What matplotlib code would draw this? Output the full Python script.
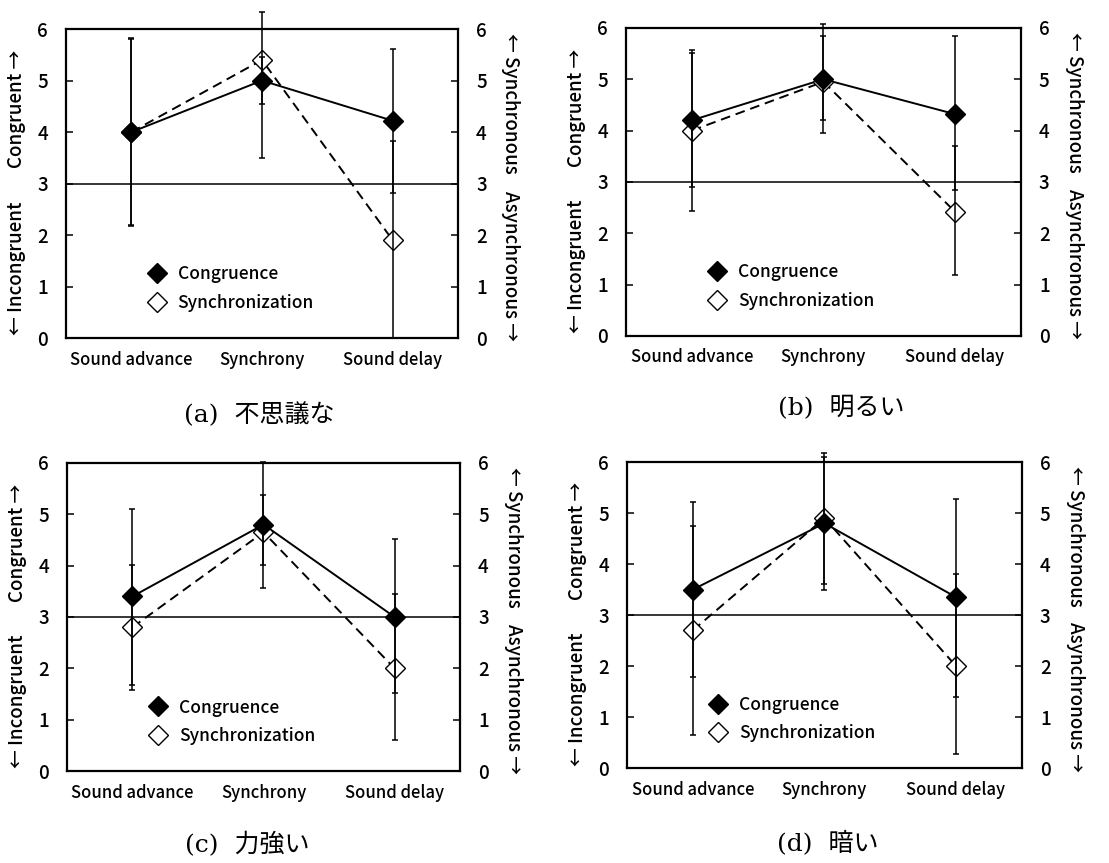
import numpy as np
import matplotlib.pyplot as plt
from matplotlib.lines import Line2D

plt.rcParams['font.family'] = ['Noto Sans CJK JP', 'DejaVu Sans']
plt.rcParams['font.weight'] = 'medium'

conditions = ['Sound advance', 'Synchrony', 'Sound delay']
panel_titles = ['(a)  不思議な', '(b)  明るい', '(c)  力強い', '(d)  暗い']

# mean ratings per panel (a)-(d)
congruence = [
    [4.00, 5.00, 4.22],
    [4.20, 5.00, 4.32],
    [3.40, 4.80, 3.00],
    [3.50, 4.80, 3.35],
]
synchronization = [
    [4.00, 5.40, 1.90],
    [4.00, 4.95, 2.42],
    [2.80, 4.65, 2.00],
    [2.70, 4.90, 2.00],
]
# lower / upper ends of the error bars
cong_low = [
    [2.17, 4.55, 2.82],
    [2.90, 4.20, 2.85],
    [1.68, 3.57, 1.52],
    [1.78, 3.50, 1.40],
]
cong_high = [
    [5.83, 5.45, 5.62],
    [5.52, 5.84, 5.84],
    [5.10, 6.02, 4.52],
    [5.22, 6.10, 5.28],
]
sync_low = [
    [2.20, 3.50, 0.00],
    [2.44, 3.95, 1.18],
    [1.58, 4.02, 0.60],
    [0.64, 3.60, 0.28],
]
sync_high = [
    [5.80, 6.33, 3.82],
    [5.57, 6.08, 3.70],
    [4.02, 5.38, 3.45],
    [4.75, 6.18, 3.80],
]

# axes rectangles in figure fractions
rects = [
    [0.0595, 0.6083, 0.3535, 0.358],
    [0.5645, 0.6107, 0.3560, 0.357],
    [0.0604, 0.1066, 0.3544, 0.357],
    [0.5654, 0.1100, 0.3560, 0.3546],
]
# caption centres (pixels)
caption_xy = [(259, 415), (841, 408), (247, 845), (828, 843)]

W, H = 1109, 863
fig = plt.figure(figsize=(W / 100, H / 100), dpi=100)

x = np.arange(len(conditions))

for i in range(4):
    ax = fig.add_axes(rects[i])
    c = np.array(congruence[i])
    s = np.array(synchronization[i])

    ax.axhline(3, color='black', lw=1.1, zorder=1)

    ax.plot(x, c, color='black', lw=1.4, zorder=3)
    ax.plot(x, s, color='black', lw=1.4, ls=(0, (5, 3)), zorder=3)
    ax.plot(x, s, 'D', ms=10, mfc='white', mec='black', mew=1.0, zorder=4)
    ax.plot(x, c, 'D', ms=10, mfc='black', mec='black', zorder=4)

    ax.errorbar(x, c, yerr=[c - np.array(cong_low[i]), np.array(cong_high[i]) - c],
                fmt='none', ecolor='black', elinewidth=1.1, capsize=2,
                capthick=1.1, zorder=5, clip_on=False)
    ax.errorbar(x, s, yerr=[s - np.array(sync_low[i]), np.array(sync_high[i]) - s],
                fmt='none', ecolor='black', elinewidth=1.1, capsize=2,
                capthick=1.1, zorder=5, clip_on=False)

    ax.set_xlim(-0.5, 2.5)
    ax.set_ylim(0, 6)
    ax.set_xticks(x)
    ax.set_xticklabels(conditions, fontsize=12)
    ax.tick_params(axis='x', length=0, pad=9)
    ax.set_yticks(range(7))
    ax.tick_params(axis='y', direction='in', length=5, width=1.1,
                   labelsize=13.5, left=True, right=True,
                   labelleft=True, labelright=True, pad=13)
    for sp in ax.spines.values():
        sp.set_linewidth(1.6)

    # side labels
    trans_l = ax.get_yaxis_transform()
    ax.text(-0.125, 4.45, 'Congruent →', rotation=90, transform=trans_l,
            ha='center', va='center', fontsize=13.5)
    ax.text(-0.125, 1.35, '← Incongruent', rotation=90, transform=trans_l,
            ha='center', va='center', fontsize=13.5)
    ax.text(1.135, 4.55, '← Synchronous', rotation=270, transform=trans_l,
            ha='center', va='center', fontsize=13.5)
    ax.text(1.135, 1.4, 'Asynchronous →', rotation=270, transform=trans_l,
            ha='center', va='center', fontsize=13.5)

    handles = [
        Line2D([], [], ls='none', marker='D', ms=10, mfc='black', mec='black'),
        Line2D([], [], ls='none', marker='D', ms=10, mfc='white', mec='black'),
    ]
    ax.legend(handles, ['Congruence', 'Synchronization'], frameon=False,
              loc='center left', bbox_to_anchor=(0.165, 0.16), fontsize=12.5,
              handletextpad=0.6, labelspacing=0.6, handlelength=1.2)

    cx, cy = caption_xy[i]
    fig.text(cx / W, 1 - cy / H, panel_titles[i], ha='center', va='center',
             fontsize=18, family=['DejaVu Serif', 'Noto Sans CJK JP'],
             fontweight='normal')

fig.savefig('out.png', dpi=100, facecolor='white')
